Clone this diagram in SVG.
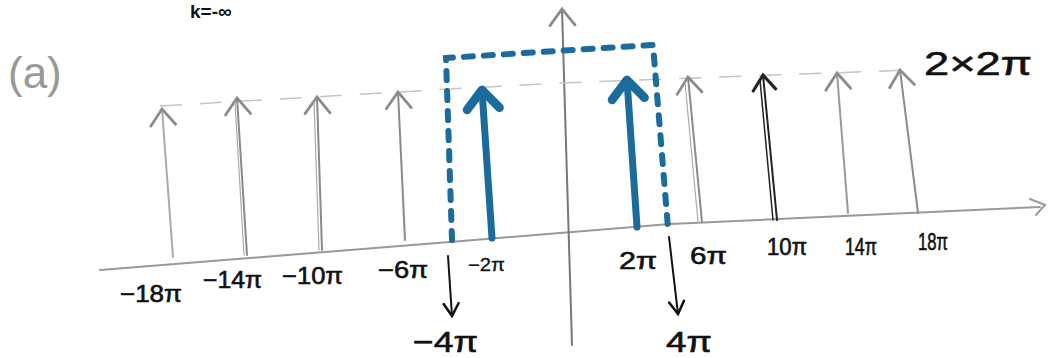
<svg xmlns="http://www.w3.org/2000/svg" width="1051" height="358" viewBox="0 0 1051 358">
<style>
.lbl{font-family:"Liberation Sans",Arial,sans-serif;fill:#111;font-size:23px;stroke:#111;stroke-width:0.6}
.gray{stroke:#8a8a8a;stroke-width:2;fill:none;stroke-linecap:round}
.dark{stroke:#222;stroke-width:2;fill:none;stroke-linecap:round}
.blue{stroke:#1b6c9c;stroke-width:7;fill:none;stroke-linecap:round;stroke-linejoin:round}
.bdash{stroke:#1b6c9c;stroke-width:6;fill:none;stroke-linecap:round;stroke-dasharray:9 11}
.guide{stroke:#c4c4c4;stroke-width:1.5;fill:none;stroke-dasharray:22 18}
.blk{stroke:#111;stroke-width:2;fill:none;stroke-linecap:round}
</style>
<defs>
<marker id="hg" markerUnits="userSpaceOnUse" orient="auto" refX="0" refY="0" markerWidth="30" markerHeight="30" viewBox="-16 -12 20 24" overflow="visible">
<path d="M-13,-10 L0,0 L-13,10" stroke="#8a8a8a" stroke-width="2.2" fill="none" stroke-linecap="round"/>
</marker>
<marker id="hd" markerUnits="userSpaceOnUse" orient="auto" refX="0" refY="0" markerWidth="30" markerHeight="30" viewBox="-16 -12 20 24" overflow="visible">
<path d="M-12,-9 L0,0 L-12,9" stroke="#222" stroke-width="2.5" fill="none" stroke-linecap="round"/>
</marker>
<marker id="hb" markerUnits="userSpaceOnUse" orient="auto" refX="0" refY="0" markerWidth="40" markerHeight="40" viewBox="-20 -16 24 32" overflow="visible">
<path d="M-15,-13 L0,0 L-15,13" stroke="#1b6c9c" stroke-width="7" fill="none" stroke-linecap="round" stroke-linejoin="round"/>
</marker>
<marker id="hk" markerUnits="userSpaceOnUse" orient="auto" refX="0" refY="0" markerWidth="20" markerHeight="20" viewBox="-12 -8 14 16" overflow="visible">
<path d="M-10,-6 L0,0 L-10,6" stroke="#111" stroke-width="2" fill="none" stroke-linecap="round"/>
</marker>
</defs>
<rect width="1051" height="358" fill="#fff"/>

<g id="title">
<text x="190" y="18" style="font-family:'Liberation Sans',Arial,sans-serif;font-size:19px;font-weight:bold;fill:#111">k=-∞</text>
<text x="8" y="88" style="font-family:'Liberation Sans',Arial,sans-serif;font-size:44px;fill:#999">(a)</text>
</g>

<g id="axes">
<polyline class="gray" points="100,270 450,242 670,224 1040,207" style="stroke:#999"/>
<polyline class="gray" points="1030,199 1045,205 1036,215" style="stroke:#999"/>
<line class="gray" x1="572" y1="345" x2="562" y2="9" marker-end="url(#hg)" style="stroke:#777"/>
<path class="guide" d="M160,106 L450,89 L560,83 L910,70"/>
</g>

<g id="impulses-gray">
<line class="gray" x1="173" y1="257" x2="162" y2="109" marker-end="url(#hg)" style="stroke:#aaa"/>
<line class="gray" x1="247" y1="255" x2="237" y2="98" marker-end="url(#hg)"/>
<line class="gray" x1="244" y1="255" x2="235" y2="102" style="stroke:#aaa;stroke-width:1.2"/>
<line class="gray" x1="322" y1="250" x2="317" y2="97" marker-end="url(#hg)"/>
<line class="gray" x1="319" y1="250" x2="314" y2="101" style="stroke:#aaa;stroke-width:1.2"/>
<line class="gray" x1="405" y1="240" x2="398" y2="92" marker-end="url(#hg)"/>
<line class="gray" x1="702" y1="222" x2="688" y2="77" marker-end="url(#hg)"/>
<line class="gray" x1="698" y1="222" x2="685" y2="82" style="stroke:#aaa;stroke-width:1.2"/>
<line class="dark" x1="777" y1="220" x2="763" y2="75" marker-end="url(#hd)"/>
<line class="dark" x1="773" y1="220" x2="760" y2="80" style="stroke-width:1.5"/>
<line class="gray" x1="848" y1="213" x2="837" y2="73" marker-end="url(#hg)" style="stroke:#999"/>
<line class="gray" x1="918" y1="213" x2="900" y2="70" marker-end="url(#hg)"/>
</g>

<g id="impulses-blue">
<line class="blue" x1="492" y1="238" x2="482" y2="90" marker-end="url(#hb)"/>
<line class="blue" x1="637" y1="227" x2="627" y2="80" marker-end="url(#hb)"/>
</g>

<g id="window">
<path class="bdash" d="M452,240 L446,58 L653,45 L668,228"/>
</g>

<g id="connectors">
<line class="blk" x1="448" y1="256" x2="452" y2="316" marker-end="url(#hk)"/>
<line class="blk" x1="669" y1="237" x2="678" y2="314" marker-end="url(#hk)"/>
</g>

<g id="labels">
<text class="lbl" x="120" y="302" textLength="62" lengthAdjust="spacingAndGlyphs">−18π</text>
<text class="lbl" x="203" y="288" textLength="59" lengthAdjust="spacingAndGlyphs">−14π</text>
<text class="lbl" x="282" y="284" textLength="61" lengthAdjust="spacingAndGlyphs">−10π</text>
<text class="lbl" x="378" y="278" textLength="50" lengthAdjust="spacingAndGlyphs">−6π</text>
<text class="lbl" x="468" y="271" style="font-size:18px;stroke-width:0.3" textLength="37" lengthAdjust="spacingAndGlyphs">−2π</text>
<text class="lbl" x="619" y="269" textLength="38" lengthAdjust="spacingAndGlyphs">2π</text>
<text class="lbl" x="690" y="264" textLength="37" lengthAdjust="spacingAndGlyphs">6π</text>
<text class="lbl" x="767" y="255" textLength="40" lengthAdjust="spacingAndGlyphs">10π</text>
<text class="lbl" x="845" y="255" textLength="32" lengthAdjust="spacingAndGlyphs">14π</text>
<text class="lbl" x="918" y="250" textLength="30" lengthAdjust="spacingAndGlyphs">18π</text>
<text class="lbl" x="413" y="352" style="font-size:29px" textLength="65" lengthAdjust="spacingAndGlyphs">−4π</text>
<text class="lbl" x="666" y="352" style="font-size:29px" textLength="46" lengthAdjust="spacingAndGlyphs">4π</text>
<text class="lbl" x="924" y="75" style="font-size:33px" textLength="108" lengthAdjust="spacingAndGlyphs">2×2π</text>
</g>
</svg>
